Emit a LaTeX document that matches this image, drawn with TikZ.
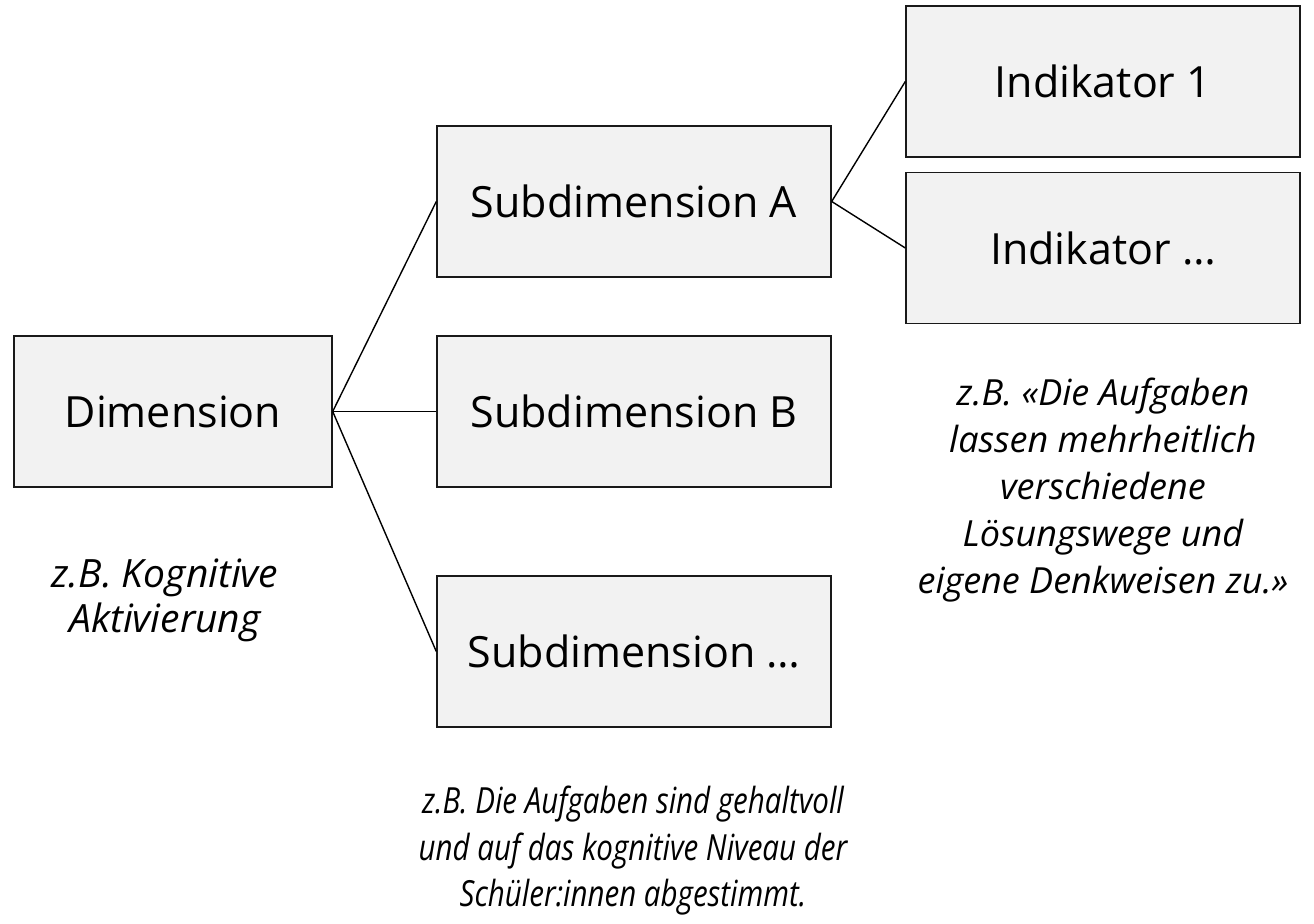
\documentclass[tikz,border=0pt]{standalone}
\usepackage{fontspec}
\setmainfont{Open Sans}
\newfontfamily\narrowfont[FakeStretch=0.82]{Open Sans}
\definecolor{boxgray}{HTML}{F2F2F2}
\begin{document}
\begin{tikzpicture}[x=0.5pt,y=-0.5pt,
    box/.style={draw=black!90,fill=boxgray,line width=0.7pt,minimum width=197pt,minimum height=75.5pt,inner sep=0pt,font=\fontsize{21.5}{26}\selectfont},
    note/.style={align=center,font=\fontsize{18}{23.5}\selectfont\itshape}]
      \useasboundingbox (0,0) rectangle (1314,924);
      %kasten
      \node[box,minimum width=159pt] (dim) at (173,411.5) {Dimension};
      \node[box] (subA) at (634,201.5) {Subdimension A};
      \node[box] (subB) at (634,411.5) {Subdimension B};
      \node[box] (subX) at (634,651.5) {Subdimension \dots};
      \node[box] (indA) at (1103,81.5) {Indikator 1};
      \node[box] (indX) at (1103,248) {Indikator \dots};
      %beispiele
      \node[note,font=\fontsize{19.5}{22.5}\selectfont\itshape] (exdim) at (165,600) {z.B. Kognitive\\Aktivierung};
      \node[note,font=\fontsize{18}{23.25}\narrowfont\itshape] (exsub) at (633,851) {z.B. Die Aufgaben sind gehaltvoll\\und auf das kognitive Niveau der\\Schüler:innen abgestimmt.};
      \node[note] (exind) at (1103,490) {z.B. «Die Aufgaben\\lassen mehrheitlich\\verschiedene\\Lösungswege und\\eigene Denkweisen zu.»};
      %linien
      \draw[line width=0.7pt] (dim.east) -- (subA.west);
      \draw[line width=0.7pt] (dim.east) -- (subB.west);
      \draw[line width=0.7pt] (dim.east) -- (subX.west);
      \draw[line width=0.7pt] (subA.east) -- (indA.west);
      \draw[line width=0.7pt] (subA.east) -- (indX.west);
\end{tikzpicture}
\end{document}
